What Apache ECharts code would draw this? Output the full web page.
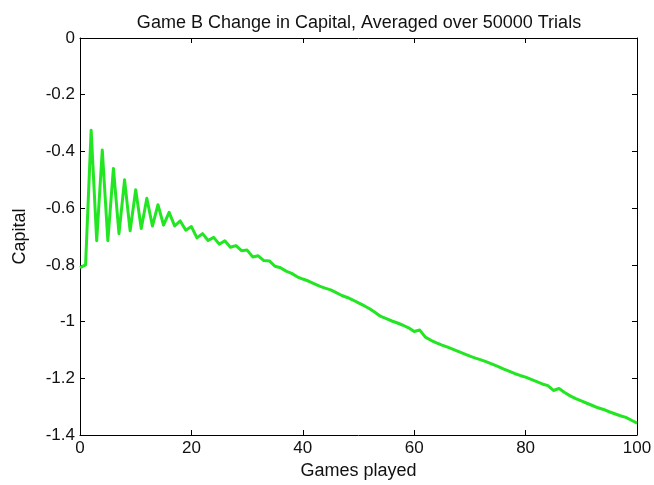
<!DOCTYPE html>
<html>
<head>
<meta charset="utf-8">
<script src="https://cdn.jsdelivr.net/npm/echarts@6/dist/echarts.min.js"></script>
<style>html,body{margin:0;padding:0;background:#fff}#c{width:654px;height:485px}</style>
</head>
<body>
<div id="c"></div>
<script>
const titleText = 'Game B Change in Capital, Averaged over 50000 Trials';
const xName = 'Games played';
const yName = 'Capital';
const games = [];
for (let i = 0; i <= 100; i++) games.push(i);
const capital = [
  -0.81, -0.80, -0.325, -0.715, -0.395, -0.715, -0.46, -0.69, -0.50, -0.68,
  -0.535, -0.672, -0.565, -0.663, -0.588, -0.66, -0.615, -0.663, -0.645, -0.678,
  -0.665, -0.705, -0.69, -0.714, -0.703, -0.727, -0.715, -0.738, -0.732, -0.75,
  -0.748, -0.772, -0.768, -0.785, -0.786, -0.805, -0.81, -0.822, -0.83, -0.842,
  -0.85, -0.857, -0.866, -0.875, -0.882, -0.888, -0.898, -0.908, -0.915, -0.924,
  -0.934, -0.944, -0.955, -0.968, -0.982, -0.99, -0.998, -1.005, -1.013, -1.022,
  -1.035, -1.03, -1.055, -1.066, -1.075, -1.083, -1.09, -1.098, -1.106, -1.114,
  -1.122, -1.129, -1.135, -1.142, -1.15, -1.158, -1.167, -1.175, -1.183, -1.19,
  -1.196, -1.204, -1.212, -1.22, -1.226, -1.243, -1.236, -1.25, -1.262, -1.272,
  -1.28, -1.288, -1.296, -1.304, -1.31, -1.318, -1.325, -1.332, -1.338, -1.348,
  -1.358
];
const xTicks = [0, 20, 40, 60, 80, 100];
const yTicks = [0, -0.2, -0.4, -0.6, -0.8, -1, -1.2, -1.4];

const font = 'Liberation Sans';
const chart = echarts.init(document.getElementById('c'), null, {renderer: 'canvas'});
const lineStyle = {color: '#000', width: 1};
const tick = {show: true, inside: true, length: 5, lineStyle: {color: '#000'}};
chart.setOption({
  backgroundColor: '#fff',
  animation: false,
  title: {
    text: titleText, left: 354, top: 9, textAlign: 'center',
    textStyle: {fontFamily: font, fontSize: 18, fontWeight: 'normal', color: '#111'}
  },
  grid: {left: 80, right: 17, top: 38, bottom: 50, show: false, containLabel: false, outerBoundsMode: 'none'},
  xAxis: [{
    type: 'value', min: xTicks[0], max: xTicks[xTicks.length - 1], interval: 20,
    name: xName, nameLocation: 'middle', nameGap: 27,
    nameTextStyle: {fontFamily: font, fontSize: 18, color: '#111'},
    axisLine: {show: true, onZero: false, lineStyle},
    axisTick: tick, splitLine: {show: false},
    axisLabel: {fontFamily: font, fontSize: 17, color: '#111', margin: 5}
  }, {
    type: 'value', position: 'top', min: 0, max: 100, interval: 20,
    axisLine: {show: true, onZero: false, lineStyle},
    axisTick: tick, axisLabel: {show: false}, splitLine: {show: false}
  }],
  yAxis: [{
    type: 'value', min: yTicks[yTicks.length - 1], max: yTicks[0], interval: 0.2,
    name: yName, nameLocation: 'middle', nameGap: 51, nameRotate: 90,
    nameTextStyle: {fontFamily: font, fontSize: 18, color: '#111'},
    axisLine: {show: true, onZero: false, lineStyle},
    axisTick: tick, splitLine: {show: false},
    axisLabel: {fontFamily: font, fontSize: 17, color: '#111', margin: 5}
  }, {
    type: 'value', position: 'right', min: -1.4, max: 0, interval: 0.2,
    axisLine: {show: true, onZero: false, lineStyle},
    axisTick: tick, axisLabel: {show: false}, splitLine: {show: false}
  }],
  series: [{
    type: 'line', xAxisIndex: 0, yAxisIndex: 0,
    data: games.map((g, i) => [g, capital[i]]),
    showSymbol: false, symbol: 'none',
    lineStyle: {color: '#22e622', width: 3, join: 'round'}
  }]
});
</script>
</body>
</html>
